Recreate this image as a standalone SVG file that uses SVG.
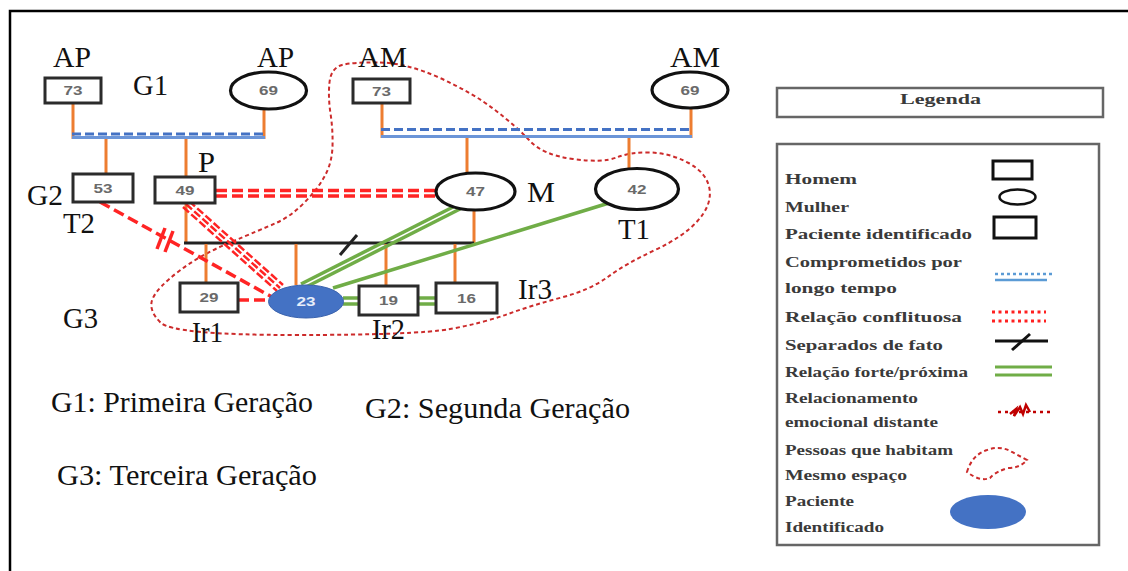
<svg xmlns="http://www.w3.org/2000/svg" width="1128" height="571" viewBox="0 0 1128 571">
  <style>
    .man { fill: #fff; stroke: #2b2b2b; stroke-width: 3; }
    .woman { fill: #fff; stroke: #111; stroke-width: 3.2; }
    .ip { fill: #4472C4; stroke: #3a62ad; stroke-width: 1; }
    .num { font-family: "Liberation Sans", Arial, sans-serif; font-weight: bold; font-size: 12px; fill: #6a6a6a; text-anchor: middle; }
    .num-w { font-family: "Liberation Sans", Arial, sans-serif; font-weight: bold; font-size: 12px; fill: #e8eefa; text-anchor: middle; }
    .lbl { font-family: "Liberation Serif", "Times New Roman", serif; font-size: 29px; fill: #111; }
    .gen { font-family: "Liberation Serif", "Times New Roman", serif; font-size: 29px; fill: #111; }
    .leg { font-family: "Liberation Serif", "Times New Roman", serif; font-weight: bold; font-size: 15px; fill: #3a3a3a; }
    .kin { stroke: #ED7D31; stroke-width: 3; fill: none; }
    .commit-d { stroke: #4472C4; stroke-width: 3; stroke-dasharray: 9 4; fill: none; }
    .commit-s { stroke: #6b95d8; stroke-width: 3; fill: none; }
    .conflict { stroke: #FF2424; stroke-width: 3.5; stroke-dasharray: 11 5; fill: none; }
    .conflict-thin { stroke: #FF2424; stroke-width: 2.5; stroke-dasharray: 8 3; fill: none; }
    .close { stroke: #70AD47; stroke-width: 3.5; fill: none; }
    .sep { stroke: #222; stroke-width: 3; fill: none; }
    .house { stroke: #CC2B2B; stroke-width: 2; stroke-dasharray: 4 3; fill: none; }
    .box { fill: #fff; stroke: #666; stroke-width: 2.5; }
  </style>

  <!-- page frame -->
  <rect x="0" y="0" width="1128" height="571" fill="#fff"/>
  <path d="M10,571 V11 H1128" fill="none" stroke="#000" stroke-width="2.5"/>

  <!-- household boundary -->
  <path id="household" class="house" d="M380,62.5 Q407,63 440,78 Q473,93 495,110 Q517,127 530,141 Q543,155 573,159 Q603,163 616.5,157.5 Q630,152 650,152.5 Q670,153 688.5,163 Q707,173 709.5,189 Q712,205 697.5,221 Q683,237 655,250 Q627,263 608.5,276.5 Q590,290 561.5,297.5 Q533,305 508,314 Q483,323 450,329 Q417,335 295,335 Q173,335 160.5,322.5 Q148,310 152.5,299 Q157,288 178.5,271.5 Q200,255 230,242.5 Q260,230 275,223.5 Q290,217 303.5,203.5 Q317,190 324.5,176.5 Q332,163 332.5,146.5 Q333,130 330.5,113.5 Q328,97 329.5,82.5 Q331,68 342,65 Q353,62 380,62.5 Z"/>

  <!-- connectors -->
  <g id="connectors">
    <!-- paternal grandparents -->
    <line class="kin" x1="73" y1="103" x2="73" y2="139"/>
    <line class="kin" x1="264" y1="108" x2="264" y2="139"/>
    <line class="commit-s" x1="72" y1="137.5" x2="265" y2="137.5"/>
    <line class="commit-d" x1="72" y1="134" x2="265" y2="134"/>
    <line class="kin" x1="106" y1="139" x2="106" y2="174"/>
    <line class="kin" x1="186" y1="139" x2="186" y2="177"/>

    <!-- maternal grandparents -->
    <line class="kin" x1="382" y1="103" x2="382" y2="138"/>
    <line class="kin" x1="691" y1="107" x2="691" y2="138"/>
    <line class="commit-s" x1="381" y1="136.5" x2="692" y2="136.5"/>
    <line class="commit-d" x1="381" y1="129.5" x2="692" y2="129.5"/>
    <line class="kin" x1="467" y1="138" x2="467" y2="174"/>
    <line class="kin" x1="629" y1="138" x2="629" y2="169"/>

    <!-- parents, separated -->
    <line class="kin" x1="186" y1="203" x2="186" y2="243"/>
    <line class="kin" x1="474" y1="210" x2="474" y2="243"/>
    <line class="sep" x1="184" y1="243" x2="474" y2="243"/>
    <line class="sep" x1="340" y1="255" x2="357" y2="235"/>
    <line class="kin" x1="206" y1="244" x2="206" y2="283"/>
    <line class="kin" x1="296" y1="244" x2="296" y2="285"/>
    <line class="kin" x1="386" y1="244" x2="386" y2="286"/>
    <line class="kin" x1="455" y1="244" x2="455" y2="283"/>

    <!-- conflict P - M -->
    <line class="conflict" x1="216" y1="190.5" x2="436" y2="190.5"/>
    <line class="conflict" x1="216" y1="196" x2="436" y2="196"/>

    <!-- conflict P - 23 -->
    <line class="conflict-thin" x1="189" y1="201" x2="283" y2="285"/>
    <line class="conflict-thin" x1="186" y1="204" x2="280" y2="288"/>
    <line class="conflict-thin" x1="183" y1="207" x2="277" y2="291"/>

    <!-- cut-off conflict T2 - 23 -->
    <line class="conflict" x1="100" y1="202" x2="272" y2="297"/>
    <line stroke="#FF2424" stroke-width="3.5" x1="157" y1="249" x2="165" y2="228"/>
    <line stroke="#FF2424" stroke-width="3.5" x1="165" y1="252" x2="173" y2="231"/>

    <!-- conflict 29 - 23 -->
    <line class="conflict" x1="238" y1="300" x2="270" y2="300"/>

    <!-- close relations -->
    <line class="close" x1="455" y1="206" x2="301" y2="284"/>
    <line class="close" x1="460" y1="209" x2="306" y2="287"/>
    <line class="close" x1="609" y1="203" x2="333" y2="288"/>
    <line class="close" stroke-width="2.5" x1="343" y1="298" x2="360" y2="298"/>
    <line class="close" stroke-width="2.5" x1="343" y1="304" x2="360" y2="304"/>
    <line class="close" stroke-width="2.5" x1="418" y1="298" x2="437" y2="298"/>
    <line class="close" stroke-width="2.5" x1="418" y1="304" x2="437" y2="304"/>
  </g>

  <!-- people -->
  <g id="ap-73">
    <rect class="man" x="45" y="78" width="56" height="25"/>
    <text class="num" x="73" y="95" textLength="19" lengthAdjust="spacingAndGlyphs">73</text>
    <text class="lbl" x="53" y="67" textLength="38" lengthAdjust="spacingAndGlyphs">AP</text>
  </g>
  <g id="ap-69">
    <ellipse class="woman" cx="268.5" cy="90.5" rx="38" ry="18.5"/>
    <text class="num" x="268.5" y="95" textLength="19" lengthAdjust="spacingAndGlyphs">69</text>
    <text class="lbl" x="257" y="67" textLength="37" lengthAdjust="spacingAndGlyphs">AP</text>
  </g>
  <g id="am-73">
    <rect class="man" x="353" y="79" width="57" height="24"/>
    <text class="num" x="381.5" y="95.5" textLength="19" lengthAdjust="spacingAndGlyphs">73</text>
    <text class="lbl" x="358" y="67" textLength="49" lengthAdjust="spacingAndGlyphs">AM</text>
  </g>
  <g id="am-69">
    <ellipse class="woman" cx="690" cy="90" rx="38" ry="18"/>
    <text class="num" x="690" y="94.5" textLength="19" lengthAdjust="spacingAndGlyphs">69</text>
    <text class="lbl" x="670" y="67" textLength="50" lengthAdjust="spacingAndGlyphs">AM</text>
  </g>
  <g id="t2-53">
    <rect class="man" x="73" y="174" width="60" height="28"/>
    <text class="num" x="103" y="192.5" textLength="19" lengthAdjust="spacingAndGlyphs">53</text>
    <text class="lbl" x="63" y="233" textLength="32" lengthAdjust="spacingAndGlyphs">T2</text>
  </g>
  <g id="p-49">
    <rect class="man" x="155" y="177" width="60" height="26"/>
    <text class="num" x="185" y="194.5" textLength="19" lengthAdjust="spacingAndGlyphs">49</text>
    <text class="lbl" x="198" y="172" textLength="17" lengthAdjust="spacingAndGlyphs">P</text>
  </g>
  <g id="m-47">
    <ellipse class="woman" cx="475.5" cy="191.5" rx="39.5" ry="18.5"/>
    <text class="num" x="475.5" y="196" textLength="19" lengthAdjust="spacingAndGlyphs">47</text>
    <text class="lbl" x="527" y="202" textLength="28" lengthAdjust="spacingAndGlyphs">M</text>
  </g>
  <g id="t1-42">
    <ellipse class="woman" cx="637" cy="189" rx="41.5" ry="20.5"/>
    <text class="num" x="637" y="193.5" textLength="19" lengthAdjust="spacingAndGlyphs">42</text>
    <text class="lbl" x="618" y="239" textLength="32" lengthAdjust="spacingAndGlyphs">T1</text>
  </g>
  <g id="ir1-29">
    <rect class="man" x="180" y="283" width="58" height="29"/>
    <text class="num" x="209" y="302" textLength="19" lengthAdjust="spacingAndGlyphs">29</text>
    <text class="lbl" x="192" y="342" textLength="31" lengthAdjust="spacingAndGlyphs">Ir1</text>
  </g>
  <g id="ip-23">
    <ellipse class="ip" cx="306" cy="301.5" rx="37.5" ry="16.5"/>
    <text class="num-w" x="306" y="306" textLength="19" lengthAdjust="spacingAndGlyphs">23</text>
  </g>
  <g id="ir2-19">
    <rect class="man" x="359" y="286" width="59" height="29"/>
    <text class="num" x="388.5" y="305" textLength="19" lengthAdjust="spacingAndGlyphs">19</text>
    <text class="lbl" x="372" y="339" textLength="33" lengthAdjust="spacingAndGlyphs">Ir2</text>
  </g>
  <g id="ir3-16">
    <rect class="man" x="436" y="283" width="61" height="30"/>
    <text class="num" x="466.5" y="302.5" textLength="19" lengthAdjust="spacingAndGlyphs">16</text>
    <text class="lbl" x="518" y="299" textLength="34" lengthAdjust="spacingAndGlyphs">Ir3</text>
  </g>

  <!-- generation markers -->
  <g id="generations">
    <text class="lbl" x="133" y="95" textLength="35" lengthAdjust="spacingAndGlyphs">G1</text>
    <text class="lbl" x="27" y="205" textLength="36" lengthAdjust="spacingAndGlyphs">G2</text>
    <text class="lbl" x="63" y="328" textLength="35" lengthAdjust="spacingAndGlyphs">G3</text>
    <text class="gen" x="51" y="412" textLength="262" lengthAdjust="spacingAndGlyphs">G1: Primeira Geração</text>
    <text class="gen" x="365" y="418" textLength="265" lengthAdjust="spacingAndGlyphs">G2: Segunda Geração</text>
    <text class="gen" x="57" y="485" textLength="260" lengthAdjust="spacingAndGlyphs">G3: Terceira Geração</text>
  </g>

  <!-- legend -->
  <g id="legend-title">
    <rect class="box" x="777" y="88" width="326" height="29"/>
    <text class="leg" x="900" y="104" textLength="81" lengthAdjust="spacingAndGlyphs" fill="#222">Legenda</text>
  </g>
  <g id="legend">
    <rect class="box" x="777" y="144" width="322" height="401"/>
    <text class="leg" x="785" y="184" textLength="72" lengthAdjust="spacingAndGlyphs">Homem</text>
    <text class="leg" x="785" y="212" textLength="64" lengthAdjust="spacingAndGlyphs">Mulher</text>
    <text class="leg" x="785" y="239" textLength="187" lengthAdjust="spacingAndGlyphs">Paciente identificado</text>
    <text class="leg" x="785" y="267" textLength="177" lengthAdjust="spacingAndGlyphs">Comprometidos por</text>
    <text class="leg" x="785" y="293" textLength="112" lengthAdjust="spacingAndGlyphs">longo tempo</text>
    <text class="leg" x="785" y="322" textLength="177" lengthAdjust="spacingAndGlyphs">Relação conflituosa</text>
    <text class="leg" x="785" y="350" textLength="158" lengthAdjust="spacingAndGlyphs">Separados de fato</text>
    <text class="leg" x="785" y="377" textLength="183" lengthAdjust="spacingAndGlyphs">Relação forte/próxima</text>
    <text class="leg" x="785" y="403" textLength="133" lengthAdjust="spacingAndGlyphs">Relacionamento</text>
    <text class="leg" x="785" y="427" textLength="153" lengthAdjust="spacingAndGlyphs">emocional distante</text>
    <text class="leg" x="785" y="455" textLength="168" lengthAdjust="spacingAndGlyphs">Pessoas que habitam</text>
    <text class="leg" x="785" y="480" textLength="122" lengthAdjust="spacingAndGlyphs">Mesmo espaço</text>
    <text class="leg" x="785" y="506" textLength="69" lengthAdjust="spacingAndGlyphs">Paciente</text>
    <text class="leg" x="785" y="532" textLength="99" lengthAdjust="spacingAndGlyphs">Identificado</text>

    <!-- legend symbols -->
    <rect x="993" y="161" width="39" height="18" fill="#fff" stroke="#111" stroke-width="3"/>
    <ellipse cx="1017.5" cy="197" rx="18" ry="7.5" fill="#fff" stroke="#111" stroke-width="2.5"/>
    <rect x="994" y="217" width="42" height="21" fill="#fff" stroke="#111" stroke-width="3"/>
    <line x1="995" y1="274" x2="1053" y2="274" stroke="#5B9BD5" stroke-width="2.5" stroke-dasharray="3 3"/>
    <line x1="995" y1="280" x2="1047" y2="280" stroke="#5B9BD5" stroke-width="2.5"/>
    <line x1="992" y1="312" x2="1046" y2="312" stroke="#FF2020" stroke-width="3" stroke-dasharray="3 3.5"/>
    <line x1="992" y1="321" x2="1046" y2="321" stroke="#FF2020" stroke-width="3" stroke-dasharray="3 3.5"/>
    <line x1="995" y1="341" x2="1048" y2="341" stroke="#111" stroke-width="3"/>
    <line x1="1012" y1="350" x2="1030" y2="334" stroke="#111" stroke-width="3"/>
    <line x1="995" y1="367" x2="1052" y2="367" stroke="#70AD47" stroke-width="3"/>
    <line x1="995" y1="375" x2="1052" y2="375" stroke="#70AD47" stroke-width="3"/>
    <line x1="998" y1="412" x2="1052" y2="412" stroke="#C00000" stroke-width="2.5" stroke-dasharray="3 4"/>
    <path d="M1010,414 L1016,409 L1014,416 L1020,407 L1023,414 L1026,405 L1030,412" fill="none" stroke="#C00000" stroke-width="2.5"/>
    <path d="M967,472 Q972,455 987,450 Q1000,445 1012,452 L1027,460 Q1020,468 1008,468 Q995,472 990,478 Q980,482 967,472 Z" fill="none" stroke="#CC2B2B" stroke-width="2" stroke-dasharray="4 3"/>
    <ellipse cx="988" cy="512" rx="38" ry="17" fill="#4472C4"/>
  </g>
</svg>
